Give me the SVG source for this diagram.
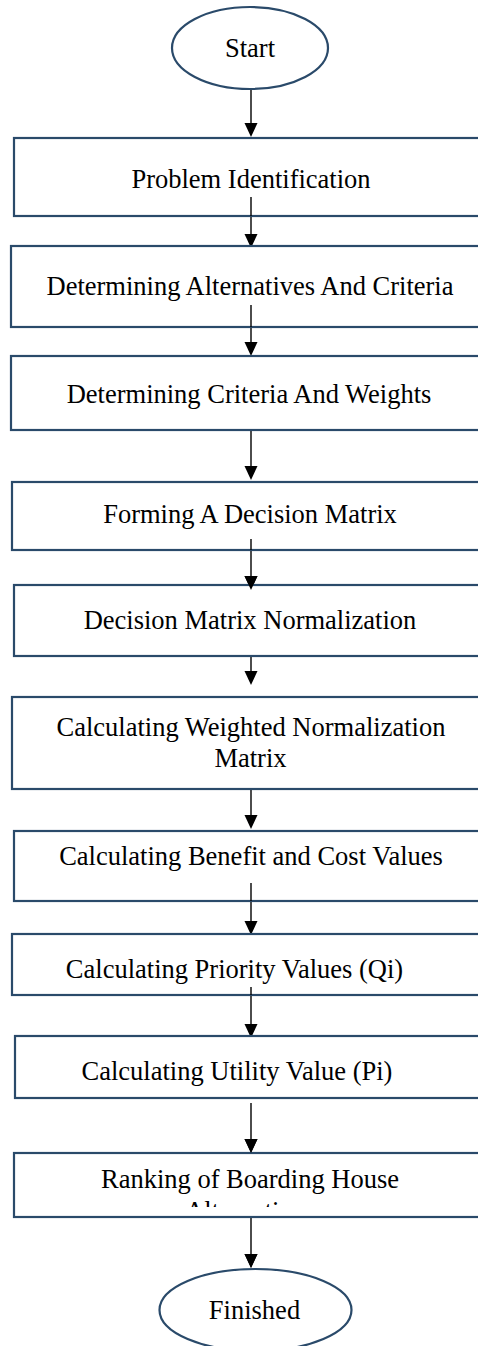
<svg xmlns="http://www.w3.org/2000/svg" width="478" height="1346" viewBox="0 0 478 1346">
  <style>
    .term { fill: #ffffff; stroke: #2a4a6a; stroke-width: 2.2; }
    .step { fill: #ffffff; stroke: #2a4a6a; stroke-width: 2.2; }
    .label { font-family: "Liberation Serif", "Times New Roman", serif; font-size: 26.5px; fill: #000000; text-anchor: middle; }
    .flow { stroke: #000000; stroke-width: 1.4; fill: none; }
    .head { fill: #000000; }
  </style>
  <defs>
    <clipPath id="clip-ranking">
      <rect x="14" y="1153" width="480" height="54"/>
    </clipPath>
  </defs>

  <rect width="478" height="1346" fill="#ffffff"/>

  <!-- connectors: vertical lines with filled triangular heads -->
  <g id="connectors">
    <path class="flow" d="M251 89 V125"/>
    <polygon class="head" points="244.5,123 257.5,123 251,137"/>
    <path class="flow" d="M251 197 V236"/>
    <polygon class="head" points="244.5,234 257.5,234 251,248"/>
    <path class="flow" d="M251 305 V344"/>
    <polygon class="head" points="244.5,342 257.5,342 251,356"/>
    <path class="flow" d="M251 430 V468"/>
    <polygon class="head" points="244.5,466 257.5,466 251,480"/>
    <path class="flow" d="M251 539 V578"/>
    <polygon class="head" points="244.5,576 257.5,576 251,590"/>
    <path class="flow" d="M251 656 V673"/>
    <polygon class="head" points="244.5,671 257.5,671 251,685"/>
    <path class="flow" d="M251 789 V817"/>
    <polygon class="head" points="244.5,815 257.5,815 251,829"/>
    <path class="flow" d="M251 883 V923"/>
    <polygon class="head" points="244.5,921 257.5,921 251,935"/>
    <path class="flow" d="M251 987 V1026"/>
    <polygon class="head" points="244.5,1024 257.5,1024 251,1038"/>
    <path class="flow" d="M251 1103 V1141"/>
    <polygon class="head" points="244.5,1139 257.5,1139 251,1153"/>
    <path class="flow" d="M251 1217 V1256"/>
    <polygon class="head" points="244.5,1254 257.5,1254 251,1268"/>
  </g>

  <g id="start">
    <ellipse class="term" cx="250" cy="48" rx="78" ry="41"/>
    <text class="label" x="250" y="57">Start</text>
  </g>

  <g id="problem-identification">
    <rect class="step" x="14" y="138" width="476" height="78"/>
    <text class="label" x="251" y="188">Problem Identification</text>
  </g>
  <path class="flow" d="M251 197 V216"/>

  <g id="alternatives-criteria">
    <rect class="step" x="11" y="246" width="479" height="81"/>
    <text class="label" x="250" y="295">Determining Alternatives And Criteria</text>
  </g>
  <path class="flow" d="M251 305 V327"/>

  <g id="criteria-weights">
    <rect class="step" x="11" y="356" width="479" height="74"/>
    <text class="label" x="249" y="403">Determining Criteria And Weights</text>
  </g>

  <g id="decision-matrix">
    <rect class="step" x="12" y="482" width="478" height="68"/>
    <text class="label" x="250" y="523">Forming A Decision Matrix</text>
  </g>
  <path class="flow" d="M251 539 V550"/>

  <g id="normalization">
    <rect class="step" x="14" y="585" width="476" height="71"/>
    <text class="label" x="250" y="629">Decision Matrix Normalization</text>
  </g>
  <polygon class="head" points="244.5,576 257.5,576 251,590"/>

  <g id="weighted-normalization">
    <rect class="step" x="12" y="697" width="478" height="92"/>
    <text class="label" x="251" y="736">Calculating Weighted Normalization</text>
    <text class="label" x="250.5" y="767">Matrix</text>
  </g>

  <g id="benefit-cost">
    <rect class="step" x="14" y="831" width="476" height="70"/>
    <text class="label" x="251" y="865">Calculating Benefit and Cost Values</text>
  </g>
  <path class="flow" d="M251 883 V901"/>

  <g id="priority-values">
    <rect class="step" x="12" y="934" width="478" height="61"/>
    <text class="label" x="234.5" y="978">Calculating Priority Values (Qi)</text>
  </g>
  <path class="flow" d="M251 987 V995"/>

  <g id="utility-value">
    <rect class="step" x="15" y="1036" width="475" height="62"/>
    <text class="label" x="237" y="1080">Calculating Utility Value (Pi)</text>
  </g>

  <g id="ranking">
    <rect class="step" x="14" y="1153" width="476" height="64"/>
    <g clip-path="url(#clip-ranking)">
      <text class="label" x="250" y="1188">Ranking of Boarding House</text>
      <text class="label" x="250" y="1220">Alternatives</text>
    </g>
  </g>
  <polygon class="head" points="244.5,1139 257.5,1139 251,1153"/>

  <g id="finished">
    <ellipse class="term" cx="255.5" cy="1310" rx="96" ry="41"/>
    <text class="label" x="254.5" y="1319">Finished</text>
  </g>
  <polygon class="head" points="244.5,1254 257.5,1254 251,1268"/>
</svg>
